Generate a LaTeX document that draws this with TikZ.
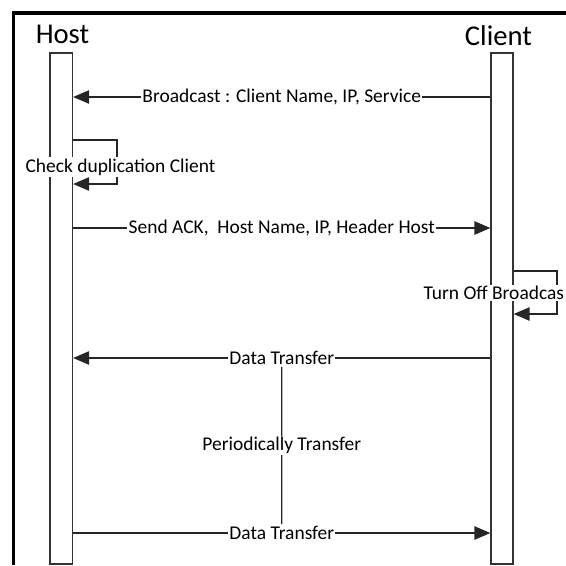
\documentclass[tikz,border=0pt]{standalone}
\usepackage{fontspec}
\setmainfont{Carlito}
\usetikzlibrary{arrows.meta}
\begin{document}
\begin{tikzpicture}[x=0.75pt,y=-0.75pt,
  lifebar/.style={draw=black!80,line width=0.9pt,minimum width=16.9pt,minimum height=383.25pt,inner sep=0pt,fill=white},
  msg/.style={draw=black!85,line width=1.1pt,-{Triangle[length=12pt,width=10pt]}},
  plain/.style={draw=black!85,line width=1.1pt},
  lbl/.style={fill=white,inner sep=1pt,font=\fontsize{14.6}{16}\selectfont},
  title/.style={font=\fontsize{21.5}{24}\selectfont,anchor=base}]
\useasboundingbox (0,0) rectangle (566,565);
\draw[line width=2.3pt] (13.5,565) -- (13.5,13) -- (566,13);
% lifelines
\node[lifebar] (host) at (61.25,308.5) {};
\node[lifebar,minimum width=16.5pt] (client) at (502,308.5) {};
\node[title] (hosttitle) at (62.5,43) {Host};
\node[title] (clienttitle) at (498.5,45) {Client};
% rows
\coordinate (r1) at (0,97);
\coordinate (r3) at (0,228);
\coordinate (r4) at (0,358);
\coordinate (r5) at (0,533);
\coordinate (c1) at (117,140);
\coordinate (c2) at (117,184);
\coordinate (d1) at (557,271);
\coordinate (d2) at (557,314);
% messages
\draw[msg] (client.west |- r1) -- node[lbl] (m1) {Broadcast : Client Name, IP, Service} (host.east |- r1);
\draw[msg] (host.east |- c1) -- (c1) -- (c2) -- (host.east |- c2);
\node[lbl] (m2) at (120.5,167) {Check duplication Client};
\draw[msg] (host.east |- r3) -- node[lbl] (m3) {Send ACK,~ Host Name, IP, Header Host} (client.west |- r3);
\draw[msg] (client.east |- d1) -- (d1) -- (d2) -- (client.east |- d2);
\node[lbl,anchor=west] (m4) at (422,293) {Turn Off Broadcas};
\draw[msg] (client.west |- r4) -- node[lbl] (dt1) {Data Transfer} (host.east |- r4);
\draw[msg] (host.east |- r5) -- node[lbl] (dt2) {Data Transfer} (client.west |- r5);
\draw[plain] (dt1.south) -- node[lbl] (pt) {Periodically Transfer} (dt2.north);
\end{tikzpicture}
\end{document}
